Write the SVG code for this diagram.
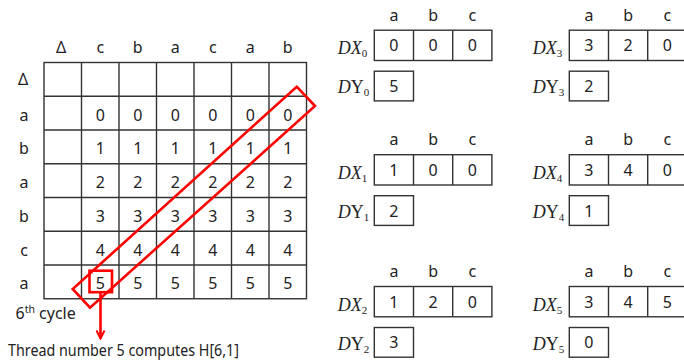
<svg xmlns="http://www.w3.org/2000/svg" width="684" height="360" viewBox="0 0 684 360">
<defs>
<style>
.t{font-family:"Noto Sans","Liberation Sans",sans-serif;font-size:16px;fill:#222;text-anchor:middle}
.tl{font-family:"Noto Sans","Liberation Sans",sans-serif;font-size:16px;fill:#222}
.g{stroke:#333;stroke-width:1.4;fill:none}
.box{stroke:#333;stroke-width:1.4;fill:#fff}
.m{font-family:"Liberation Serif","DejaVu Serif",serif;font-size:18px;fill:#222}
.red{stroke:#f00;fill:none;stroke-width:2.6}
</style>
<marker id="arr" viewBox="0 0 10 10" refX="9" refY="5" markerWidth="10" markerHeight="10" markerUnits="userSpaceOnUse" orient="auto">
<path d="M1,1 L9,5 L1,9" fill="none" stroke="#f00" stroke-width="2"/>
</marker>
</defs>
<rect width="684" height="360" fill="#fff"/>

<g id="matrix">
<g class="g">
<rect x="44" y="62.5" width="262.5" height="236.25"/>
<line x1="81.5" y1="62.5" x2="81.5" y2="298.75"/>
<line x1="119" y1="62.5" x2="119" y2="298.75"/>
<line x1="156.5" y1="62.5" x2="156.5" y2="298.75"/>
<line x1="194" y1="62.5" x2="194" y2="298.75"/>
<line x1="231.5" y1="62.5" x2="231.5" y2="298.75"/>
<line x1="269" y1="62.5" x2="269" y2="298.75"/>
<line x1="44" y1="96.25" x2="306.5" y2="96.25"/>
<line x1="44" y1="130" x2="306.5" y2="130"/>
<line x1="44" y1="163.75" x2="306.5" y2="163.75"/>
<line x1="44" y1="197.5" x2="306.5" y2="197.5"/>
<line x1="44" y1="231.25" x2="306.5" y2="231.25"/>
<line x1="44" y1="265" x2="306.5" y2="265"/>
</g>
<g class="t">
<text x="61" y="52.5">Δ</text>
<text x="100.25" y="52.5">c</text>
<text x="137.75" y="52.5">b</text>
<text x="175.25" y="52.5">a</text>
<text x="212.75" y="52.5">c</text>
<text x="250.25" y="52.5">a</text>
<text x="287.75" y="52.5">b</text>
<text x="23" y="85">Δ</text>
<text x="24" y="120.5">a</text>
<text x="24" y="154.3">b</text>
<text x="24" y="188">a</text>
<text x="24" y="221.8">b</text>
<text x="24" y="255.5">c</text>
<text x="24" y="289.3">a</text>
</g>
<g class="t">
<text y="120.5"><tspan x="100.25">0</tspan><tspan x="137.75">0</tspan><tspan x="175.25">0</tspan><tspan x="212.75">0</tspan><tspan x="250.25">0</tspan><tspan x="287.75">0</tspan></text>
<text y="154.3"><tspan x="100.25">1</tspan><tspan x="137.75">1</tspan><tspan x="175.25">1</tspan><tspan x="212.75">1</tspan><tspan x="250.25">1</tspan><tspan x="287.75">1</tspan></text>
<text y="188"><tspan x="100.25">2</tspan><tspan x="137.75">2</tspan><tspan x="175.25">2</tspan><tspan x="212.75">2</tspan><tspan x="250.25">2</tspan><tspan x="287.75">2</tspan></text>
<text y="221.8"><tspan x="100.25">3</tspan><tspan x="137.75">3</tspan><tspan x="175.25">3</tspan><tspan x="212.75">3</tspan><tspan x="250.25">3</tspan><tspan x="287.75">3</tspan></text>
<text y="255.5"><tspan x="100.25">4</tspan><tspan x="137.75">4</tspan><tspan x="175.25">4</tspan><tspan x="212.75">4</tspan><tspan x="250.25">4</tspan><tspan x="287.75">4</tspan></text>
<text y="289.3"><tspan x="100.25">5</tspan><tspan x="137.75">5</tspan><tspan x="175.25">5</tspan><tspan x="212.75">5</tspan><tspan x="250.25">5</tspan><tspan x="287.75">5</tspan></text>
</g>
</g>

<g id="highlight">
<polygon class="red" points="296.7,86.7 315,106 90,307.7 72.7,289"/>
<rect class="red" x="89.5" y="270.7" width="22.5" height="21.5" stroke-width="3"/>
</g>

<g id="connectors">
<line class="red" x1="100.5" y1="292.4" x2="100.5" y2="338.5" stroke-width="2" marker-end="url(#arr)"/>
</g>

<g id="captions">
<text class="tl" x="15.5" y="319">6<tspan font-size="10.5" dy="-6.5">th</tspan><tspan dy="6.5"> cycle</tspan></text>
<text class="tl" x="8" y="355.5" textLength="231" lengthAdjust="spacingAndGlyphs">Thread number 5 computes H[6,1]</text>
</g>

<g id="dx0">
<g class="t"><text x="393.9" y="20.7">a</text><text x="433.1" y="20.7">b</text><text x="472.3" y="20.7">c</text></g>
<rect class="box" x="374.3" y="30.2" width="117.6" height="30.3"/>
<line class="g" x1="413.5" y1="30.2" x2="413.5" y2="60.5"/><line class="g" x1="452.7" y1="30.2" x2="452.7" y2="60.5"/>
<g class="t"><text x="393.9" y="51.3">0</text><text x="433.1" y="51.3">0</text><text x="472.3" y="51.3">0</text></g>
<text class="m" x="337.7" y="54.3"><tspan font-style="italic">DX</tspan><tspan font-size="11" dy="3">0</tspan></text>
</g>
<g id="dy0">
<rect class="box" x="374.3" y="71.2" width="39.2" height="29.7"/>
<text class="t" x="393.9" y="92">5</text>
<text class="m" x="337.7" y="93.3"><tspan font-style="italic">D</tspan>Y<tspan font-size="11" dy="3">0</tspan></text>
</g>

<g id="dx1">
<g class="t"><text x="393.9" y="145.2">a</text><text x="433.1" y="145.2">b</text><text x="472.3" y="145.2">c</text></g>
<rect class="box" x="374.3" y="154.7" width="117.6" height="30.3"/>
<line class="g" x1="413.5" y1="154.7" x2="413.5" y2="185"/><line class="g" x1="452.7" y1="154.7" x2="452.7" y2="185"/>
<g class="t"><text x="393.9" y="175.8">1</text><text x="433.1" y="175.8">0</text><text x="472.3" y="175.8">0</text></g>
<text class="m" x="337.7" y="178.8"><tspan font-style="italic">DX</tspan><tspan font-size="11" dy="3">1</tspan></text>
</g>
<g id="dy1">
<rect class="box" x="374.3" y="195.7" width="39.2" height="29.7"/>
<text class="t" x="393.9" y="216.5">2</text>
<text class="m" x="337.7" y="217.8"><tspan font-style="italic">D</tspan>Y<tspan font-size="11" dy="3">1</tspan></text>
</g>

<g id="dx2">
<g class="t"><text x="393.9" y="277">a</text><text x="433.1" y="277">b</text><text x="472.3" y="277">c</text></g>
<rect class="box" x="374.3" y="286.5" width="117.6" height="30.3"/>
<line class="g" x1="413.5" y1="286.5" x2="413.5" y2="316.8"/><line class="g" x1="452.7" y1="286.5" x2="452.7" y2="316.8"/>
<g class="t"><text x="393.9" y="307.6">1</text><text x="433.1" y="307.6">2</text><text x="472.3" y="307.6">0</text></g>
<text class="m" x="337.7" y="310.6"><tspan font-style="italic">DX</tspan><tspan font-size="11" dy="3">2</tspan></text>
</g>
<g id="dy2">
<rect class="box" x="374.3" y="327.5" width="39.2" height="29.7"/>
<text class="t" x="393.9" y="348.3">3</text>
<text class="m" x="337.7" y="349.6"><tspan font-style="italic">D</tspan>Y<tspan font-size="11" dy="3">2</tspan></text>
</g>

<g id="dx3">
<g class="t"><text x="588.9" y="20.7">a</text><text x="628.1" y="20.7">b</text><text x="667.3" y="20.7">c</text></g>
<rect class="box" x="569.3" y="30.2" width="117.6" height="30.3"/>
<line class="g" x1="608.5" y1="30.2" x2="608.5" y2="60.5"/><line class="g" x1="647.7" y1="30.2" x2="647.7" y2="60.5"/>
<g class="t"><text x="588.9" y="51.3">3</text><text x="628.1" y="51.3">2</text><text x="667.3" y="51.3">0</text></g>
<text class="m" x="532.7" y="54.3"><tspan font-style="italic">DX</tspan><tspan font-size="11" dy="3">3</tspan></text>
</g>
<g id="dy3">
<rect class="box" x="569.3" y="71.2" width="39.2" height="29.7"/>
<text class="t" x="588.9" y="92">2</text>
<text class="m" x="532.7" y="93.3"><tspan font-style="italic">D</tspan>Y<tspan font-size="11" dy="3">3</tspan></text>
</g>

<g id="dx4">
<g class="t"><text x="588.9" y="145.2">a</text><text x="628.1" y="145.2">b</text><text x="667.3" y="145.2">c</text></g>
<rect class="box" x="569.3" y="154.7" width="117.6" height="30.3"/>
<line class="g" x1="608.5" y1="154.7" x2="608.5" y2="185"/><line class="g" x1="647.7" y1="154.7" x2="647.7" y2="185"/>
<g class="t"><text x="588.9" y="175.8">3</text><text x="628.1" y="175.8">4</text><text x="667.3" y="175.8">0</text></g>
<text class="m" x="532.7" y="178.8"><tspan font-style="italic">DX</tspan><tspan font-size="11" dy="3">4</tspan></text>
</g>
<g id="dy4">
<rect class="box" x="569.3" y="195.7" width="39.2" height="29.7"/>
<text class="t" x="588.9" y="216.5">1</text>
<text class="m" x="532.7" y="217.8"><tspan font-style="italic">D</tspan>Y<tspan font-size="11" dy="3">4</tspan></text>
</g>

<g id="dx5">
<g class="t"><text x="588.9" y="277">a</text><text x="628.1" y="277">b</text><text x="667.3" y="277">c</text></g>
<rect class="box" x="569.3" y="286.5" width="117.6" height="30.3"/>
<line class="g" x1="608.5" y1="286.5" x2="608.5" y2="316.8"/><line class="g" x1="647.7" y1="286.5" x2="647.7" y2="316.8"/>
<g class="t"><text x="588.9" y="307.6">3</text><text x="628.1" y="307.6">4</text><text x="667.3" y="307.6">5</text></g>
<text class="m" x="532.7" y="310.6"><tspan font-style="italic">DX</tspan><tspan font-size="11" dy="3">5</tspan></text>
</g>
<g id="dy5">
<rect class="box" x="569.3" y="327.5" width="39.2" height="29.7"/>
<text class="t" x="588.9" y="348.3">0</text>
<text class="m" x="532.7" y="349.6"><tspan font-style="italic">D</tspan>Y<tspan font-size="11" dy="3">5</tspan></text>
</g>
</svg>
